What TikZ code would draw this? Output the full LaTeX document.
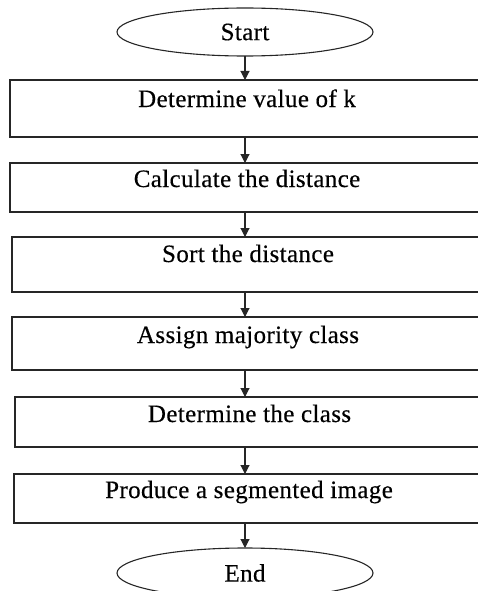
\documentclass[tikz,border=0pt]{standalone}
\usepackage{fontspec}
\setmainfont{Liberation Serif}[LetterSpace=1.5,FakeBold=0.4]
\usetikzlibrary{arrows.meta,shapes.geometric}

\tikzset{
  flowline/.style={line width=1.1pt, draw=black!85},
  arr/.style={flowline, -{Triangle[length=9pt,width=9pt]}},
  terminal/.style={ellipse, flowline, minimum width=256pt, inner sep=0pt, outer sep=0pt,
    font=\fontsize{25}{28}\selectfont},
  stepbox/.style={rectangle, flowline, anchor=north west, inner sep=0pt, outer sep=0pt,
    font=\fontsize{25}{28}\selectfont},
}

\begin{document}
\begin{tikzpicture}[x=1pt,y=-1pt]
  \useasboundingbox (0,0) rectangle (478,591);
  \clip (0,0) rectangle (478,591);

  % terminals
  \node[terminal, minimum height=48pt] (start) at (245,32) {Start};
  \node[terminal, minimum height=50pt] (stop) at (245,573) {End};

  % process steps: (left, top), width to the right edge, height, baseline
  \node[stepbox, minimum width=474pt, text height=27pt, text depth=30pt] (s1) at (10,80)  {Determine value of k};
  \node[stepbox, minimum width=474pt, text height=24pt, text depth=25pt] (s2) at (10,163) {Calculate the distance};
  \node[stepbox, minimum width=472pt, text height=25pt, text depth=30pt] (s3) at (12,237) {Sort the distance};
  \node[stepbox, minimum width=472pt, text height=26pt, text depth=27pt] (s4) at (12,317) {Assign majority class};
  \node[stepbox, minimum width=469pt, text height=25pt, text depth=25pt] (s5) at (15,397) {Determine the class};
  \node[stepbox, minimum width=470pt, text height=24pt, text depth=25pt] (s6) at (14,474) {Produce a segmented image};

  % connectors along the central axis
  \draw[arr] (start.south) -- (start.south |- s1.north);
  \draw[arr] (s1.south -| start.south) -- (s2.north -| start.south);
  \draw[arr] (s2.south -| start.south) -- (s3.north -| start.south);
  \draw[arr] (s3.south -| start.south) -- (s4.north -| start.south);
  \draw[arr] (s4.south -| start.south) -- (s5.north -| start.south);
  \draw[arr] (s5.south -| start.south) -- (s6.north -| start.south);
  \draw[arr] (s6.south -| start.south) -- (stop.north);
\end{tikzpicture}
\end{document}
